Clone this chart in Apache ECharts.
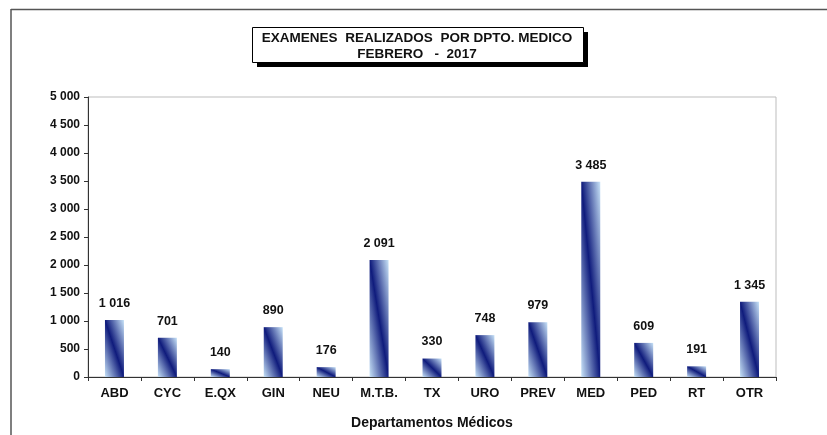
<!DOCTYPE html>
<html>
<head>
<meta charset="utf-8">
<script src="https://cdn.jsdelivr.net/npm/echarts@6/dist/echarts.min.js"></script>
<style>
html,body{margin:0;padding:0;background:#fff;}
#c{width:827px;height:435px;}
</style>
</head>
<body>
<div id="c"></div>
<script>
const categories = ['ABD','CYC','E.QX','GIN','NEU','M.T.B.','TX','URO','PREV','MED','PED','RT','OTR'];
const values = [1016, 701, 140, 890, 176, 2091, 330, 748, 979, 3485, 609, 191, 1345];
const titleLines = ['EXAMENES  REALIZADOS  POR DPTO. MEDICO', 'FEBRERO   -  2017'];
const xAxisName = 'Departamentos Médicos';
const yMin = 0, yMax = 5000, yStep = 500;

const FONT = '"Liberation Sans", Arial, sans-serif';
const fmt = v => String(v).replace(/\B(?=(\d{3})+(?!\d))/g, ' ');
const BAR_W = 19;

const chart = echarts.init(document.getElementById('c'), null, {renderer: 'canvas'});

const option = {
  backgroundColor: '#fff',
  animation: false,
  grid: {left: 88, right: 51, top: 97, bottom: 58, containLabel: false, outerBoundsMode: 'none', show: true, borderColor: '#bdbdbd', borderWidth: 1, backgroundColor: 'transparent'},
  graphic: [
    {type: 'line', shape: {x1: 11, y1: 9.5, x2: 827, y2: 9.5}, style: {stroke: '#555', lineWidth: 1.5}},
    {type: 'line', shape: {x1: 11, y1: 9, x2: 11, y2: 435}, style: {stroke: '#555', lineWidth: 1.5}},
    {type: 'rect', shape: {x: 257, y: 32, width: 331, height: 35}, style: {fill: '#000'}},
    {type: 'rect', shape: {x: 252.5, y: 27.5, width: 331, height: 35}, style: {fill: '#fff', stroke: '#000', lineWidth: 1}},
    {type: 'text', x: 417, y: 46, style: {text: titleLines.join('\n'), fill: '#111', font: 'bold 13.5px ' + FONT, align: 'center', verticalAlign: 'middle', lineHeight: 16}}
  ],
  xAxis: {
    type: 'category',
    data: categories,
    name: xAxisName,
    nameLocation: 'middle',
    nameGap: 39,
    nameTextStyle: {fontFamily: FONT, fontWeight: 'bold', fontSize: 14, color: '#111'},
    axisLine: {lineStyle: {color: '#333', width: 1}},
    axisTick: {show: true, length: 4, lineStyle: {color: '#333'}},
    axisLabel: {fontFamily: FONT, fontWeight: 'bold', fontSize: 13, color: '#111', margin: 10, interval: 0}
  },
  yAxis: {
    type: 'value',
    min: yMin, max: yMax, interval: yStep,
    axisLine: {show: true, lineStyle: {color: '#333', width: 1}},
    axisTick: {show: true, length: 4, lineStyle: {color: '#333'}},
    splitLine: {show: false},
    axisLabel: {fontFamily: FONT, fontWeight: 'bold', fontSize: 12, color: '#111', margin: 8, formatter: fmt}
  },
  series: [{
    type: 'bar',
    barWidth: BAR_W,
    data: values,
    label: {show: true, position: 'top', distance: 10, fontFamily: FONT, fontWeight: 'bold', fontSize: 12.5, color: '#111', formatter: p => fmt(p.value)}
  }]
};
chart.setOption(option);

const y0 = chart.convertToPixel({yAxisIndex: 0}, 0);
const stops = [
  {offset: 0, color: '#c8e3f8'},
  {offset: 0.5, color: '#0f1b7c'},
  {offset: 1, color: '#c8e3f8'}
];
const styled = values.map(v => {
  const h = Math.max(1, y0 - chart.convertToPixel({yAxisIndex: 0}, v));
  const d2 = BAR_W * BAR_W + h * h;
  return {
    value: v,
    itemStyle: {color: new echarts.graphic.LinearGradient(0, 1, 2 * h * h / d2, 1 - 2 * BAR_W * BAR_W / d2, stops)}
  };
});
chart.setOption({series: [{data: styled}]});
</script>
</body>
</html>
